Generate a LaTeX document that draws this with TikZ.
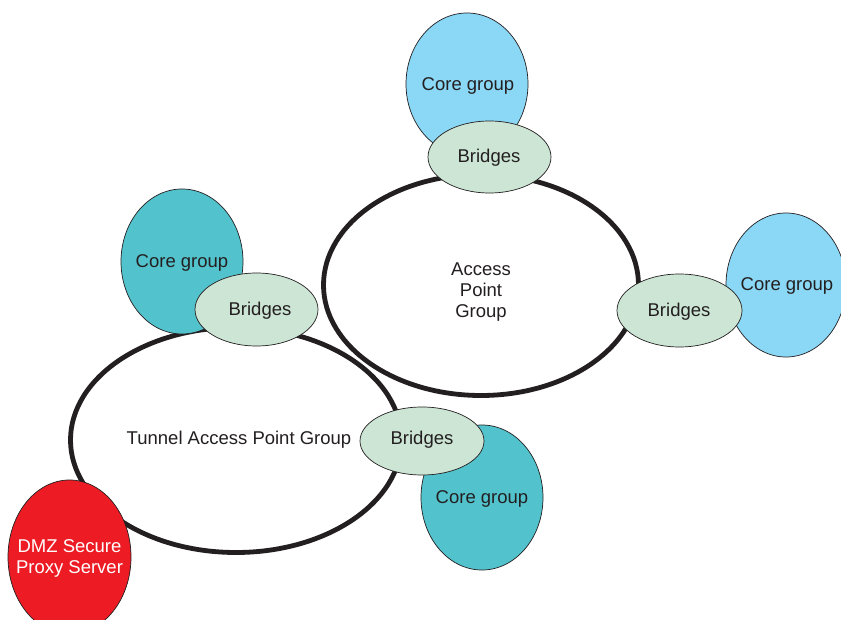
\documentclass[tikz,border=0pt]{standalone}
\usepackage{fontspec}
\setmainfont{Liberation Sans}
\usetikzlibrary{shapes.geometric}
\definecolor{lblue}{HTML}{8AD7F6}
\definecolor{teal2}{HTML}{52C3CD}
\definecolor{lgreen}{HTML}{CCE5D4}
\definecolor{dmzred}{HTML}{ED1C24}
\definecolor{txt}{HTML}{231F20}
\tikzset{
  lbl/.style={text=txt, align=center, inner sep=0pt, font=\fontsize{18.5}{21}\selectfont},
  bigring/.style={ellipse, draw=txt, line width=4.8pt, inner sep=0pt},
  blob/.style={ellipse, draw=txt, line width=0.7pt, inner sep=0pt},
  coreA/.style={blob, fill=lblue},
  coreB/.style={blob, fill=teal2},
  bridge/.style={blob, fill=lgreen},
  dmz/.style={blob, fill=dmzred}
}
\begin{document}
\begin{tikzpicture}[x=1pt,y=-1pt]
\useasboundingbox[fill=white] (0,0) rectangle (841,620);
% big rings
\node[bigring, minimum width=315pt, minimum height=221pt] (ap) at (481,285) {};
\node[lbl] (aplbl) at (481,292) {Access\\Point\\Group};
\node[bigring, minimum width=331pt, minimum height=225pt] (tap) at (236,440) {};
\node[lbl] (taplbl) at (239,440) {Tunnel Access Point Group};
% core groups
\node[coreA, minimum width=122pt, minimum height=142pt] (c1) at (467,84) {};
\node[lbl] (c1l) at (468,86) {Core group};
\node[coreA, minimum width=120pt, minimum height=144pt] (c2) at (786,285) {};
\node[lbl] (c2l) at (787,286) {Core group};
\node[coreB, minimum width=122pt, minimum height=145pt] (c3) at (182,261.5) {};
\node[lbl] (c3l) at (182,263) {Core group};
\node[coreB, minimum width=122pt, minimum height=145pt] (c4) at (482,497.5) {};
\node[lbl] (c4l) at (482,499) {Core group};
\node[dmz, minimum width=123pt, minimum height=154pt] (dmz) at (69.5,557) {};
\node[lbl, text=white] (dmzl) at (69.5,558) {DMZ Secure\\Proxy Server};
% bridges
\node[bridge, minimum width=123pt, minimum height=72pt] (b1) at (489.5,157) {};
\node[lbl] (b1l) at (489,158) {Bridges};
\node[bridge, minimum width=125pt, minimum height=73pt] (b2) at (679.5,310.5) {};
\node[lbl] (b2l) at (679,312) {Bridges};
\node[bridge, minimum width=123pt, minimum height=73pt] (b3) at (256.5,309.5) {};
\node[lbl] (b3l) at (260,311) {Bridges};
\node[bridge, minimum width=124pt, minimum height=68pt] (b4) at (422,441) {};
\node[lbl] (b4l) at (422,440) {Bridges};
\end{tikzpicture}
\end{document}
